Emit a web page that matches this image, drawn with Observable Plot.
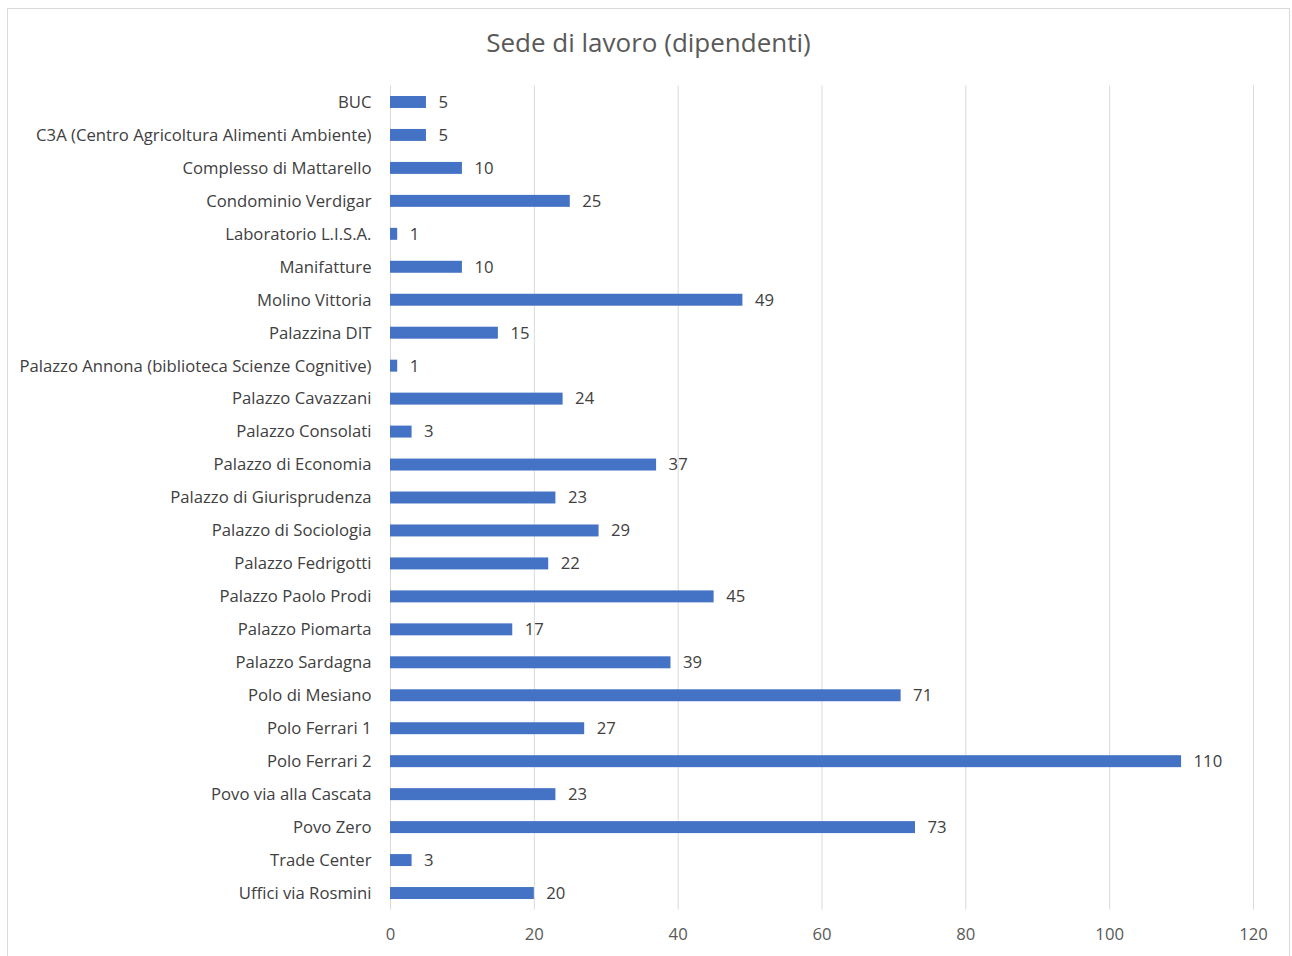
<!DOCTYPE html>
<html>
<head>
<meta charset="utf-8">
<script src="https://cdn.jsdelivr.net/npm/d3@7"></script>
<script src="https://cdn.jsdelivr.net/npm/@observablehq/plot@0.6"></script>
<style>
  html, body { margin: 0; padding: 0; background: #fff; }
  body { position: relative; width: 1292px; height: 956px; overflow: hidden; font-family: "Open Sans", sans-serif; }
  #frame { position: absolute; left: 7px; top: 8px; width: 1283px; height: 960px; border: 1px solid #d9d9d9; box-sizing: border-box; }
  #title { position: absolute; left: 7px; width: 1283px; top: 24px; text-align: center; font-size: 26px; color: #595959; line-height: 36px; }
  #chart { position: absolute; left: 0; top: 70px; }
</style>
</head>
<body>
<div id="frame"></div>
<div id="title">Sede di lavoro (dipendenti)</div>
<div id="chart"></div>
<script>
const categories = [
  "BUC",
  "C3A (Centro Agricoltura Alimenti Ambiente)",
  "Complesso di Mattarello",
  "Condominio Verdigar",
  "Laboratorio L.I.S.A.",
  "Manifatture",
  "Molino Vittoria",
  "Palazzina DIT",
  "Palazzo Annona (biblioteca Scienze Cognitive)",
  "Palazzo Cavazzani",
  "Palazzo Consolati",
  "Palazzo di Economia",
  "Palazzo di Giurisprudenza",
  "Palazzo di Sociologia",
  "Palazzo Fedrigotti",
  "Palazzo Paolo Prodi",
  "Palazzo Piomarta",
  "Palazzo Sardagna",
  "Polo di Mesiano",
  "Polo Ferrari 1",
  "Polo Ferrari 2",
  "Povo via alla Cascata",
  "Povo Zero",
  "Trade Center",
  "Uffici via Rosmini"
];
const values = [5, 5, 10, 25, 1, 10, 49, 15, 1, 24, 3, 37, 23, 29, 22, 45, 17, 39, 71, 27, 110, 23, 73, 3, 20];
const xTicks = [0, 20, 40, 60, 80, 100, 120];

const data = categories.map((c, i) => ({sede: c, n: values[i]}));

const chart = Plot.plot({
  width: 1292,
  height: 886,
  marginLeft: 390,
  marginRight: 39,
  marginTop: 15.5,
  marginBottom: 46.5,
  style: {fontFamily: "'Open Sans', sans-serif", fontSize: "16.7px", color: "#595959", background: "transparent"},
  x: {domain: [0, 120], ticks: xTicks, label: null},
  y: {domain: categories, padding: 0, round: false, label: null},
  marks: [
    Plot.ruleX(xTicks, {stroke: "#d9d9d9", strokeWidth: 1}),
    Plot.barX(data, {x: "n", y: "sede", fill: "#4472C4", insetTop: 10.5, insetBottom: 10.5}),
    Plot.text(data, {x: "n", y: "sede", text: d => String(d.n), textAnchor: "start", dx: 12, fill: "#404040", fontSize: 16.7}),
    Plot.axisX({ticks: xTicks, tickSize: 0, tickPadding: 18, fontSize: 16.7, fill: "#595959", label: null}),
    Plot.axisY({tickSize: 0, tickPadding: 19, fontSize: 16.7, fill: "#404040", label: null})
  ]
});
document.getElementById("chart").appendChild(chart);
</script>
</body>
</html>
